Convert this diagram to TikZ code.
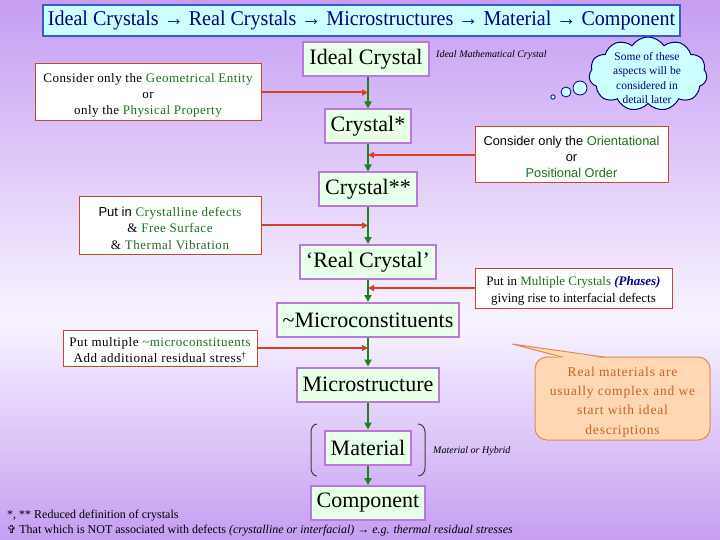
\documentclass[tikz,border=0pt]{standalone}
\usepackage{fontspec}
\usepackage{graphicx}
\setmainfont{Liberation Serif}
\newfontfamily\sansf{Liberation Sans}
\newfontfamily\djv{DejaVu Sans}
\usetikzlibrary{shapes.symbols,arrows.meta,calc}
\definecolor{bgtop}{RGB}{198,158,242}
\definecolor{bgmid}{RGB}{248,244,255}
\definecolor{titlefill}{RGB}{204,255,255}
\definecolor{titleborder}{RGB}{60,90,200}
\definecolor{navy}{RGB}{0,0,128}
\definecolor{chainfill}{RGB}{232,255,232}
\definecolor{chainborder}{RGB}{185,120,220}
\definecolor{chaingreen}{RGB}{30,130,30}
\definecolor{redline}{RGB}{215,65,35}
\definecolor{boxborder}{RGB}{190,75,50}
\definecolor{hl}{RGB}{30,110,30}
\definecolor{calloutfill}{RGB}{255,215,180}
\definecolor{calloutborder}{RGB}{220,140,80}
\definecolor{callouttext}{RGB}{200,100,40}
\newcommand\gr[1]{\textcolor{hl}{#1}}
\newcommand\tp{\rule{0pt}{14.5pt}}
\begin{document}
\begin{tikzpicture}[x=1pt,y=-1pt,
  chainbox/.style={draw=chainborder, line width=2pt, fill=chainfill, inner xsep=6pt, inner ysep=0pt, minimum height=34pt, font=\fontsize{22}{24}\selectfont},
  sidebox/.style={draw=boxborder, line width=1pt, fill=white, align=center, inner sep=0pt, font=\addfontfeature{LetterSpace=3.5}\fontsize{13}{16}\selectfont},
  grarrow/.style={draw=chaingreen, line width=2.5pt, -{Triangle[length=7pt,width=7pt]}},
  redarrow/.style={draw=redline, line width=2pt, -{Triangle[length=6pt,width=6pt]}},
  smallit/.style={font=\fontsize{10}{11}\selectfont\itshape, anchor=west, inner sep=0pt},
  note/.style={font=\fontsize{12}{13}\selectfont, anchor=west, inner sep=0pt},
]
% background
\useasboundingbox (0,0) rectangle (720,540);
\shade[top color=bgtop, bottom color=bgmid] (0,0) rectangle (720,320);
\shade[top color=bgmid, bottom color=bgtop] (0,320) rectangle (720,540);

% thought cloud
\node[cloud, cloud puffs=11, cloud puff arc=115, aspect=1.6, draw=navy, line width=1pt, fill=titlefill, minimum width=118pt, minimum height=74pt, inner sep=0pt] (cloud) at (648,74) {};
\node[align=center, text=navy, font=\fontsize{11.5}{14.5}\selectfont, inner sep=0pt] (cloudtext) at (647,78) {Some of these\\aspects will be\\considered in\\detail later};
\draw[navy, fill=titlefill, line width=0.8pt] (553,97) circle (2.2);
\draw[navy, fill=titlefill, line width=0.8pt] (566,92) circle (5);
\draw[navy, fill=titlefill, line width=0.8pt] (580,88) circle (7);

% title
\node[draw=titleborder, line width=1.5pt, fill=titlefill, minimum width=637pt, minimum height=31pt, inner sep=0pt, text=navy, font=\fontsize{21}{23}\selectfont] (title) at (361.5,20.5) {\scalebox{0.955}[1]{Ideal Crystals → Real Crystals → Microstructures → Material → Component}};

% chain
\node[chainbox] (ic) at (366,59) {Ideal Crystal};
\node[chainbox] (c1) at (368,126.5) {Crystal*};
\node[chainbox] (c2) at (368,189.5) {Crystal**};
\node[chainbox] (rc) at (368,262) {‘Real Crystal’};
\node[chainbox] (mc) at (368,320) {\textasciitilde Microconstituents};
\node[chainbox] (ms) at (368,384.5) {Microstructure};
\node[chainbox] (mat) at (368,447.5) {Material};
\node[chainbox] (comp) at (368,503) {Component};

\draw[grarrow] (ic.south -| c1) -- (c1);
\draw[grarrow] (c1) -- (c2);
\draw[grarrow] (c2) -- (rc);
\draw[grarrow] (rc) -- (mc);
\draw[grarrow] (mc) -- (ms);
\draw[grarrow] (ms) -- (mat);
\draw[grarrow] (mat) -- (comp);

% side boxes
\node[sidebox, minimum width=226pt, minimum height=57pt] (l1) at (148,92.5) {\tp Consider only the \gr{Geometrical Entity}\\or\\only the \gr{Physical Property}};
\node[sidebox, minimum width=193pt, minimum height=56pt, font=\sansf\fontsize{12.8}{16.3}\selectfont] (r1) at (571.5,155) {\rule{0pt}{13pt}Consider only the \gr{Orientational}\\or\\\gr{Positional Order}};
\node[sidebox, minimum width=182pt, minimum height=57pt, font=\addfontfeature{LetterSpace=4}\fontsize{13}{16.5}\selectfont] (l2) at (170,225.5) {\tp{\sansf\fontsize{13}{16}\selectfont Put in} \gr{Crystalline defects}\\\& \gr{Free Surface}\\\& \gr{Thermal Vibration}};
\node[sidebox, minimum width=197pt, minimum height=40pt, font=\fontsize{13}{17}\selectfont] (r2) at (573.5,288) {\rule{0pt}{15pt}Put in \gr{Multiple Crystals} \textcolor{navy}{\textbf{\textit{(Phases)}}}\\giving rise to interfacial defects};
\node[sidebox, minimum width=194pt, minimum height=36pt, font=\addfontfeature{LetterSpace=4}\fontsize{13}{16}\selectfont] (l3) at (160,348) {\rule{0pt}{13.5pt}Put multiple \gr{\textasciitilde microconstituents}\\Add additional residual stress\textsuperscript{†}};

\draw[redarrow] (l1.east) -- (l1.east -| c1.south);
\draw[redarrow] (r1.west) -- (r1.west -| c1.south);
\draw[redarrow] (l2.east) -- (l2.east -| c2.south);
\draw[redarrow] (r2.west) -- (r2.west -| rc.south);
\draw[redarrow] (l3.east) -- (l3.east -| mc.south);

% small italic notes
\node[smallit] (imc) at (436,55) {Ideal Mathematical Crystal};
\node[smallit] (moh) at (433,451) {Material or Hybrid};

% brackets around Material
\draw[black!75, line width=1pt] (317,424) to[out=180,in=90] (311,432) -- (311,468) to[out=-90,in=180] (317,476);
\draw[black!75, line width=1pt] (418,424) to[out=0,in=90] (425,432) -- (425,468) to[out=-90,in=0] (418,476);

% callout
\coordinate (ctip) at (512,344);
\node[draw=calloutborder, line width=1pt, fill=calloutfill, rounded corners=12pt, minimum width=175pt, minimum height=83pt, inner sep=0pt] (callout) at (622.5,398.5) {};
\node[inner sep=0pt, align=center, text=callouttext, font=\addfontfeature{LetterSpace=6}\fontsize{13.5}{19.3}\selectfont] (callouttext) at (622.5,402) {Real materials are\\usually complex and we\\start with ideal\\descriptions};
\fill[calloutfill] (ctip) -- (563,358.5) -- (605,358.5) -- cycle;
\draw[calloutborder, line width=1pt] (563,357.2) -- (ctip) -- (605,357.2);

% footnotes
\node[note] (fn1) at (7,516) {*, ** Reduced definition of crystals};
\node[note] (fn2) at (7,531) {{\djv\fontsize{11}{12}\selectfont ✞} That which is NOT associated with defects \textit{(crystalline or interfacial)} → \textit{e.g. thermal residual stresses}};
\end{tikzpicture}
\end{document}
